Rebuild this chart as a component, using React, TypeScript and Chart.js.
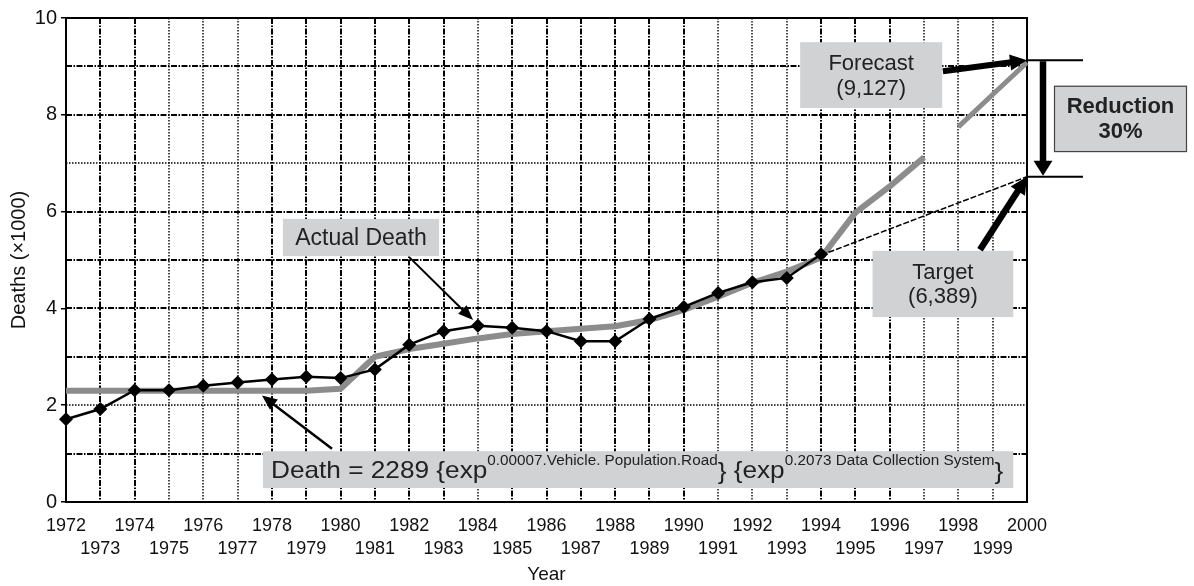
import React, { useEffect, useRef } from "react";
import { Chart, registerables } from "chart.js";

Chart.register(...registerables);

// ---------- data ----------
const YEARS_ACTUAL = [1972, 1973, 1974, 1975, 1976, 1977, 1978, 1979, 1980, 1981, 1982, 1983, 1984, 1985, 1986, 1987, 1988, 1989, 1990, 1991, 1992, 1993, 1994];
const ACTUAL_DEATHS = [1.71, 1.92, 2.31, 2.31, 2.4, 2.47, 2.53, 2.59, 2.56, 2.74, 3.25, 3.53, 3.64, 3.6, 3.53, 3.32, 3.32, 3.78, 4.03, 4.32, 4.54, 4.63, 5.12];

const YEARS_FIT = [1972, 1973, 1974, 1975, 1976, 1977, 1978, 1979, 1980, 1981, 1982, 1983, 1984, 1985, 1986, 1987, 1988, 1989, 1990, 1991, 1992, 1993, 1994, 1995, 1996, 1997];
const FIT_DEATHS = [2.3, 2.3, 2.3, 2.3, 2.3, 2.3, 2.3, 2.3, 2.34, 3.0, 3.16, 3.27, 3.38, 3.47, 3.53, 3.58, 3.63, 3.76, 3.97, 4.24, 4.53, 4.76, 5.05, 5.98, 6.52, 7.12];

const YEARS_FORECAST = [1998, 1999, 2000];
const FORECAST_DEATHS = [7.75, 8.42, 9.08];

const YEARS_TARGET = [1994, 2000];
const TARGET_DEATHS = [5.1, 6.72];

const FORECAST_VALUE = 9.127;
const TARGET_VALUE = 6.72;

const X_MIN = 1972;
const X_MAX = 2000;
const Y_TICKS = [0, 2, 4, 6, 8, 10];
const X_DOTTED = [1975, 1976, 1977, 1984, 1991, 1992, 1993, 1997, 1998, 1999];
const Y_DOTTED = [2, 7];

const FONT = "'Liberation Sans', Arial, Helvetica, sans-serif";
const BOX_FILL = "#d1d2d4";
const GRAY_LINE = "#8c8c8c";

const pts = (xs: number[], ys: number[]) => xs.map((x, i) => ({ x, y: ys[i] }));

function arrow(ctx: CanvasRenderingContext2D, x1: number, y1: number, x2: number, y2: number, lw: number, hl: number, hw: number) {
  const dx = x2 - x1, dy = y2 - y1;
  const len = Math.hypot(dx, dy);
  const ux = dx / len, uy = dy / len;
  const bx = x2 - ux * hl, by = y2 - uy * hl;
  ctx.save();
  ctx.strokeStyle = "#000";
  ctx.fillStyle = "#000";
  ctx.lineWidth = lw;
  ctx.lineCap = "butt";
  ctx.setLineDash([]);
  ctx.beginPath();
  ctx.moveTo(x1, y1);
  ctx.lineTo(bx + ux * 1, by + uy * 1);
  ctx.stroke();
  ctx.beginPath();
  ctx.moveTo(x2, y2);
  ctx.lineTo(bx - uy * hw / 2, by + ux * hw / 2);
  ctx.lineTo(bx + uy * hw / 2, by - ux * hw / 2);
  ctx.closePath();
  ctx.fill();
  ctx.restore();
}

const DASH = [6, 1.5, 1.5, 1.5];
const DOT = [1.5, 1.5];

const gridPlugin = {
  id: "customGrid",
  beforeDatasetsDraw(chart: any) {
    const { ctx, chartArea: a, scales } = chart;
    const xs = scales.x, ys = scales.y;
    ctx.save();
    for (let yr = X_MIN + 1; yr < X_MAX; yr++) {
      const px = Math.round(xs.getPixelForValue(yr));
      const dotted = X_DOTTED.includes(yr);
      ctx.strokeStyle = "#000";
      ctx.lineWidth = dotted ? 1.4 : 2;
      ctx.setLineDash(dotted ? DOT : DASH);
      ctx.beginPath();
      ctx.moveTo(px, a.top);
      ctx.lineTo(px, a.bottom);
      ctx.stroke();
    }
    for (let v = 1; v < 10; v++) {
      const py = Math.round(ys.getPixelForValue(v));
      const dotted = Y_DOTTED.includes(v);
      ctx.strokeStyle = "#000";
      ctx.lineWidth = dotted ? 1.4 : 2;
      ctx.setLineDash(dotted ? DOT : DASH);
      ctx.beginPath();
      ctx.moveTo(a.left, py);
      ctx.lineTo(a.right, py);
      ctx.stroke();
    }
    ctx.setLineDash([]);
    ctx.strokeStyle = "#000";
    ctx.lineWidth = 2;
    ctx.strokeRect(a.left, a.top, a.right - a.left, a.bottom - a.top);
    ctx.restore();
  },
};

function box(ctx: CanvasRenderingContext2D, x1: number, y1: number, x2: number, y2: number, border = false) {
  ctx.fillStyle = BOX_FILL;
  ctx.fillRect(x1, y1, x2 - x1, y2 - y1);
  if (border) {
    ctx.strokeStyle = "#444";
    ctx.lineWidth = 1.2;
    ctx.strokeRect(x1 + 0.5, y1 + 0.5, x2 - x1 - 1, y2 - y1 - 1);
  }
}

function lines(ctx: CanvasRenderingContext2D, texts: string[], cx: number, cy: number, lh: number, font: string) {
  ctx.font = font;
  ctx.fillStyle = "#222";
  ctx.textAlign = "center";
  ctx.textBaseline = "middle";
  const start = cy - ((texts.length - 1) * lh) / 2;
  texts.forEach((t, i) => ctx.fillText(t, cx, start + i * lh));
}

const annotPlugin = {
  id: "annotations",
  afterDraw(chart: any) {
    const { ctx, scales } = chart;
    const X = (v: number) => scales.x.getPixelForValue(v);
    const Y = (v: number) => scales.y.getPixelForValue(v);
    ctx.save();

    // Actual Death label + arrow
    box(ctx, X(1978.32), Y(5.85), X(1982.87), Y(5.08));
    lines(ctx, ["Actual Death"], (X(1978.32) + X(1982.87)) / 2, (Y(5.85) + Y(5.08)) / 2 + 1, 24, `23px ${FONT}`);
    arrow(ctx, X(1982.0), Y(5.06), X(1983.86), Y(3.76), 2, 15, 12);

    // Formula label + arrow
    arrow(ctx, X(1979.75), Y(1.1), X(1977.71), Y(2.2), 2.5, 15, 13);
    const fx1 = X(1977.74), fx2 = X(1999.6);
    box(ctx, fx1, Y(1.05), fx2, Y(0.29));
    const base = Y(0.5);
    const segs: [string, number, number][] = [
      ["Death = 2289 {exp", 24, 0],
      ["0.00007.Vehicle. Population.Road", 14, -13],
      ["}", 24, 1],
      [" {exp", 24, 0],
      ["0.2073 Data Collection System", 14, -13],
      ["}", 24, 1],
    ];
    let total = 0;
    segs.forEach(([t, s]) => {
      ctx.font = `${s}px ${FONT}`;
      total += ctx.measureText(t).width;
    });
    const avail = fx2 - fx1 - 18;
    const sx = avail / total;
    ctx.save();
    ctx.translate(fx1 + 8, base);
    ctx.scale(sx, 1);
    ctx.fillStyle = "#222";
    ctx.textAlign = "left";
    ctx.textBaseline = "alphabetic";
    let cx = 0;
    segs.forEach(([t, s, dy]) => {
      ctx.font = `${s}px ${FONT}`;
      ctx.fillText(t, cx, dy);
      cx += ctx.measureText(t).width;
    });
    ctx.restore();

    // Forecast label + arrow
    box(ctx, X(1993.39), Y(9.5), X(1997.53), Y(8.14));
    lines(ctx, ["Forecast", "(9,127)"], (X(1993.39) + X(1997.53)) / 2, (Y(9.5) + Y(8.14)) / 2 + 1, 25, `22px ${FONT}`);
    arrow(ctx, X(1997.55), Y(8.9), X(2000), Y(FORECAST_VALUE), 6, 17, 16);

    // Target label + arrow
    box(ctx, X(1995.5), Y(5.19), X(1999.6), Y(3.82));
    lines(ctx, ["Target", "(6,389)"], (X(1995.5) + X(1999.6)) / 2, (Y(5.19) + Y(3.82)) / 2 + 1, 24, `22px ${FONT}`);
    arrow(ctx, X(1998.63), Y(5.21), X(2000), Y(TARGET_VALUE), 6.5, 17, 17);

    // Reduction bracket
    const xr = X(2000);
    ctx.strokeStyle = "#000";
    ctx.lineWidth = 2;
    ctx.beginPath();
    ctx.moveTo(xr, Y(FORECAST_VALUE));
    ctx.lineTo(xr + 56, Y(FORECAST_VALUE));
    ctx.moveTo(xr, Y(TARGET_VALUE));
    ctx.lineTo(xr + 56, Y(TARGET_VALUE));
    ctx.stroke();
    arrow(ctx, xr + 16, Y(FORECAST_VALUE) + 1, xr + 16, Y(TARGET_VALUE) - 1, 6.5, 15, 19);
    box(ctx, xr + 27, Y(8.6), xr + 160, Y(7.23), true);
    lines(ctx, ["Reduction", "30%"], xr + 93.5, (Y(8.6) + Y(7.23)) / 2 + 1, 25, `bold 22px ${FONT}`);

    ctx.restore();
  },
};

export default function App() {
  const ref = useRef<HTMLCanvasElement>(null);
  useEffect(() => {
    document.body.style.margin = "0";
    const canvas = ref.current!;
    const chart = new Chart(canvas, {
      type: "line",
      data: {
        datasets: [
          {
            label: "Actual Death",
            data: pts(YEARS_ACTUAL, ACTUAL_DEATHS),
            borderColor: "#000",
            backgroundColor: "#000",
            borderWidth: 2.5,
            pointStyle: "rectRot",
            pointRadius: 7,
            pointBorderWidth: 0,
            tension: 0,
            clip: false,
          } as any,
          {
            label: "Target",
            data: pts(YEARS_TARGET, TARGET_DEATHS),
            borderColor: "#000",
            borderWidth: 1.5,
            borderDash: [6, 2],
            pointRadius: 0,
          },
          {
            label: "Fit",
            data: pts(YEARS_FIT, FIT_DEATHS),
            borderColor: GRAY_LINE,
            borderWidth: 6,
            pointRadius: 0,
            tension: 0,
            borderJoinStyle: "round",
          },
          {
            label: "Forecast",
            data: pts(YEARS_FORECAST, FORECAST_DEATHS),
            borderColor: GRAY_LINE,
            borderWidth: 5,
            pointRadius: 0,
            tension: 0,
            clip: false,
          } as any,
        ],
      },
      options: {
        responsive: false,
        animation: false,
        events: [],
        layout: { padding: { top: 18, right: 167, left: 0, bottom: 0 } },
        plugins: { legend: { display: false }, tooltip: { enabled: false } },
        scales: {
          x: {
            type: "linear",
            min: X_MIN,
            max: X_MAX,
            afterFit: (s: any) => {
              s.height = 84;
            },
            afterBuildTicks: (s: any) => {
              const t = [];
              for (let y = X_MIN; y <= X_MAX; y++) t.push({ value: y });
              s.ticks = t;
            },
            grid: { display: false, drawTicks: false },
            border: { display: false },
            ticks: {
              autoSkip: false,
              maxRotation: 0,
              padding: 12,
              color: "#111",
              font: { family: FONT, size: 18, lineHeight: 1.3 },
              callback: (v: any) => {
                const n = Number(v);
                return n % 2 === 0 ? [String(n), ""] : ["", String(n)];
              },
            },
            title: {
              display: true,
              text: "Year",
              color: "#111",
              font: { family: FONT, size: 19, lineHeight: 1.2 },
              padding: { top: 0, bottom: 0 },
            },
          },
          y: {
            type: "linear",
            min: 0,
            max: 10,
            afterFit: (s: any) => {
              s.width = 66;
            },
            afterBuildTicks: (s: any) => {
              s.ticks = Y_TICKS.map((v) => ({ value: v }));
            },
            grid: { display: true, drawOnChartArea: false, drawTicks: true, tickLength: 5, color: "#000", lineWidth: 1.5 },
            border: { display: false },
            ticks: {
              padding: 4,
              color: "#111",
              font: { family: FONT, size: 20 },
            },
            title: {
              display: true,
              text: "Deaths (×1000)",
              color: "#111",
              font: { family: FONT, size: 20, lineHeight: 1.2 },
              padding: { top: 7, bottom: 0 },
            },
          },
        },
      },
      plugins: [gridPlugin, annotPlugin],
    });
    return () => chart.destroy();
  }, []);
  return <canvas ref={ref} width={1194} height={586} style={{ display: "block" }} />;
}
